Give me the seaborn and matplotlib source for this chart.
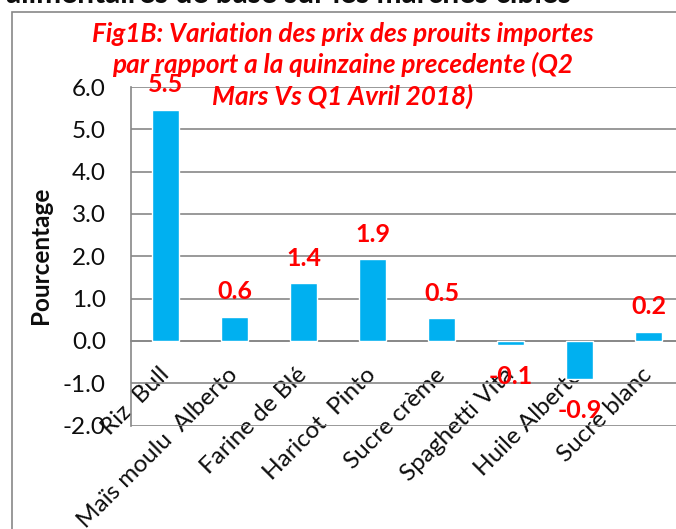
import matplotlib
matplotlib.use("Agg")
import matplotlib.pyplot as plt
import seaborn as sns
import pandas as pd
from matplotlib.patches import Rectangle
from matplotlib.ticker import FixedLocator

categories = ["Riz  Bull", "Maïs moulu  Alberto", "Farine de Blé", "Haricot  Pinto",
              "Sucre crème", "Spaghetti Vita", "Huile Alberto", "Sucre blanc"]
values = [5.46, 0.57, 1.36, 1.93, 0.53, -0.10, -0.91, 0.21]
ytick_values = [-2.0, -1.0, 0.0, 1.0, 2.0, 3.0, 4.0, 5.0, 6.0]
title_lines = ["Fig1B: Variation des prix des prouits importes",
               "par rapport a la quinzaine precedente (Q2",
               "Mars Vs Q1 Avril 2018)"]
top_text = "alimentaires de base sur les marchés cibles"
ylabel = "Pourcentage"

df = pd.DataFrame({"cat": categories, "val": values})

sns.set_style("white")
plt.rcParams["font.family"] = ["Lato", "DejaVu Sans"]

W, H = 676, 529
fig = plt.figure(figsize=(W / 100, H / 100), dpi=100)

def fx(px):
    return px / W

def fy(py):
    return 1 - py / H

grey = "#878787"
txt = "#0d0d0d"

# outer chart frame (cropped on right/bottom)
fig.patches.append(Rectangle((fx(12), fy(700)), 2.0, fy(12) - fy(700),
                             transform=fig.transFigure, fill=False,
                             edgecolor=grey, lw=1.2, zorder=0))

ax = fig.add_axes([fx(131), fy(425.5), fx(683) - fx(131), fy(87) - fy(425.5)])
sns.barplot(data=df, x="cat", y="val", color="#00B0F0", saturation=1,
            width=0.39, ax=ax, zorder=3)

ax.set_ylim(-2, 6)
ax.set_xlim(-0.5, len(categories) - 0.5)
ax.set_yticks(ytick_values)
ax.set_yticklabels([f"{v:.1f}" for v in ytick_values], fontsize=17.5, color=txt)
ax.yaxis.grid(True, color=grey, lw=1.2, zorder=0)
ax.set_axisbelow(True)

for s in ["top", "right"]:
    ax.spines[s].set_visible(False)
ax.spines["left"].set_color(grey)
ax.spines["left"].set_linewidth(1.2)
ax.spines["bottom"].set_position(("data", 0))
ax.spines["bottom"].set_color(grey)
ax.spines["bottom"].set_linewidth(1.2)

ax.tick_params(axis="y", direction="out", length=6, width=1.2, color=grey, pad=12)
ax.xaxis.set_minor_locator(FixedLocator([i + 0.5 for i in range(len(categories) - 1)]))
ax.tick_params(axis="x", which="major", length=0, pad=22)
ax.tick_params(axis="x", which="minor", direction="out", length=6, width=1.2, color=grey)
ax.set_xticks(range(len(categories)))
ax.set_xticklabels(categories, rotation=45, ha="right", va="center",
                   rotation_mode="anchor", fontsize=17.5, color=txt)
ax.set_xlabel("")
ax.set_ylabel("")

fig.text(fx(41), fy(255), ylabel, rotation=90, ha="center", va="center",
         fontsize=17.5, fontweight="bold", color=txt)

# data labels
for i, v in enumerate(values):
    off = 18 if v >= 0 else -22.5
    ax.annotate(f"{v:.1f}", (i, v), xytext=(0, off), textcoords="offset points",
                ha="center", va="center", fontsize=18, fontweight="bold",
                color="#FF0000", zorder=5)

# title (red bold italic, three lines)
for yb, line in zip([41.5, 73, 105], title_lines):
    fig.text(fx(343), fy(yb), line, ha="center", va="baseline", fontsize=18.8,
             fontweight="bold", fontstyle="italic", color="#FF0000", zorder=6)

fig.text(fx(6), fy(3), top_text, ha="left", va="baseline", fontsize=21.5,
         fontweight="bold", color=txt)

fig.savefig("out.png", dpi=100)
